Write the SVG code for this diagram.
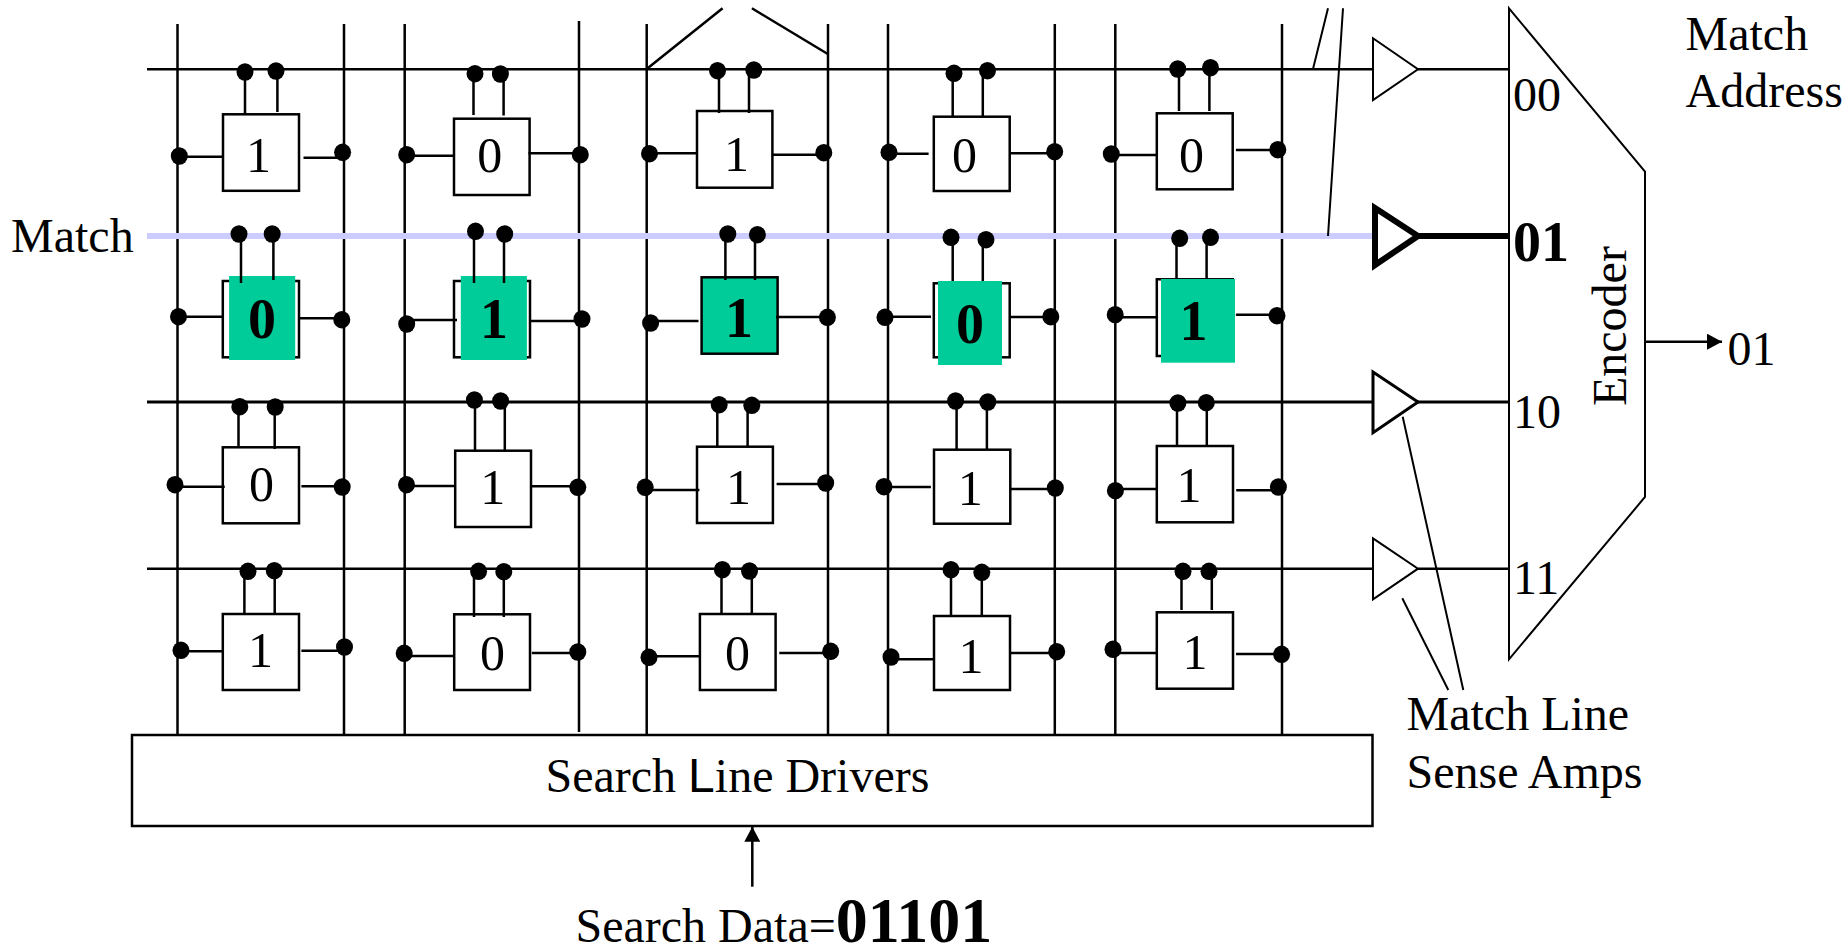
<svg xmlns="http://www.w3.org/2000/svg" width="1845" height="947" viewBox="0 0 1845 947">
<style>
text{font-family:"Liberation Serif","Times New Roman",serif;fill:#000}
.t{font-size:48px}
.c{font-size:50px;text-anchor:middle}
.b{font-size:56px;font-weight:bold;text-anchor:middle}
.l{stroke:#000;stroke-width:2.5;fill:none}
.s{stroke:#000;stroke-width:2;fill:none}
.r{stroke:#000;stroke-width:2.5;fill:#fff}
.g{fill:#00cc99;stroke:none}
.d{fill:#000;stroke:none}
</style>
<defs>
<ellipse id="dot" class="d" rx="8.5" ry="8.7"/>
<marker id="ah" markerUnits="userSpaceOnUse" markerWidth="16" markerHeight="16" refX="15" refY="8" orient="auto"><path d="M0 0L15 8L0 16Z" fill="#000"/></marker>
</defs>
<g id="connectors">
<path class="l" d="M177.500 24V735M344 24V735M404.700 24V735M579 21V732M646.700 24V735M828 24V735M888 24V735M1054.800 24V735M1115.300 24V735M1282 24V735"/>
<path class="l" d="M147 69.300H1373M1418 69.300H1509M147 568.700H1373M1418 568.700H1509"/>
<path d="M147 402H1373M1418 402H1509" stroke="#000" stroke-width="3" fill="none"/>
<path d="M147 236H1372" stroke="#ccccff" stroke-width="6" fill="none"/>
<path d="M1418 236H1509" stroke="#000" stroke-width="6" fill="none"/>
<path class="l" d="M646.700 69L722.600 8.300M751.900 8.300L827.800 54"/>
<path class="s" d="M1313 69L1328 8.300M1343 8.300L1328 236"/>
<path class="s" d="M1402.700 416.700L1463.300 690M1402.300 598.300L1448.300 690"/>
<path class="l" d="M752.300 886.700V826.700" marker-end="url(#ah)"/>
<path class="l" d="M1645 341.700H1722" marker-end="url(#ah)"/>
</g>
<g id="amp-00"><path class="s" d="M1373 38.300L1418 69.300L1373 100Z"/></g>
<g id="amp-01"><path d="M1375 208L1418 236L1375 265Z" fill="none" stroke="#000" stroke-width="6"/></g>
<g id="amp-10"><path d="M1373 372L1418 402L1373 432.700Z" fill="none" stroke="#000" stroke-width="3"/></g>
<g id="amp-11"><path class="s" d="M1373 538.300L1418 568.700L1373 599.300Z"/></g>
<g id="encoder"><path class="s" d="M1509 8.300L1645 171.700V497L1509 659.300Z"/>
<text class="t" x="1513" y="111">00</text>
<text x="1513" y="261" font-size="56" font-weight="bold">01</text>
<text class="t" x="1513" y="428.300">10</text>
<text class="t" x="1513" y="594">11</text>
<text class="t" transform="translate(1626 406) rotate(-90)">Encoder</text>
</g>
<g id="search-drivers"><rect class="r" x="132" y="735" width="1240.500" height="91"/><text class="t" x="545.500" y="791.500">Search <tspan style="font-family:'Liberation Sans',Arial,sans-serif">L</tspan>ine Drivers</text></g>
<g id="labels">
<text class="t" x="11" y="252">Match</text>
<text class="t" x="1685.500" y="50">Match</text>
<text class="t" x="1685.500" y="107">Address</text>
<text class="t" x="1727.500" y="365">01</text>
<text class="t" x="1406.500" y="730">Match Line</text>
<text class="t" x="1406.500" y="787.700">Sense Amps</text>
<text class="t" x="575.500" y="941.700">Search Data=<tspan font-size="64" font-weight="bold">01101</tspan></text>
</g>
<g id="cell-1-1"><rect class="r" x="223" y="114.300" width="76" height="76.500"/><path class="l" d="M245 72V114M277.400 72V112M179 156.700H223M303.500 157.700H342"/><use href="#dot" x="245" y="72"/><use href="#dot" x="276" y="71"/><use href="#dot" x="179.300" y="156"/><use href="#dot" x="342.600" y="152.300"/><text class="c" x="258.400" y="171.700">1</text></g>
<g id="cell-1-2"><rect class="r" x="454" y="118.700" width="75.600" height="76.300"/><path class="l" d="M473.500 74V115M503.600 74V115.500M407 155.700H453M528.500 153.300H580"/><use href="#dot" x="475" y="73.700"/><use href="#dot" x="500.400" y="74"/><use href="#dot" x="406.700" y="154.700"/><use href="#dot" x="580.300" y="154.700"/><text class="c" x="489.700" y="171.700">0</text></g>
<g id="cell-1-3"><rect class="r" x="697" y="111" width="75.400" height="76.700"/><path class="l" d="M719 71V113M749 70V113M650 153.300H697M773 154.700H824"/><use href="#dot" x="717.500" y="70.700"/><use href="#dot" x="753.800" y="70"/><use href="#dot" x="649.500" y="153.700"/><use href="#dot" x="823.800" y="152.700"/><text class="c" x="736.600" y="170.600">1</text></g>
<g id="cell-1-4"><rect class="r" x="933.800" y="116.700" width="75.900" height="74.300"/><path class="l" d="M952.700 73V116M982.800 71V116M889 153.700H928.600M1009.700 153.300H1054"/><use href="#dot" x="954" y="73.300"/><use href="#dot" x="987.500" y="70.700"/><use href="#dot" x="889" y="152.300"/><use href="#dot" x="1054.700" y="151.700"/><text class="c" x="964.600" y="171.700">0</text></g>
<g id="cell-1-5"><rect class="r" x="1156.800" y="113.300" width="75.900" height="76"/><path class="l" d="M1179 69V111M1209.400 68V111M1111 155H1156.800M1235.900 150H1278"/><use href="#dot" x="1177.700" y="69"/><use href="#dot" x="1210.500" y="67.700"/><use href="#dot" x="1111.300" y="154"/><use href="#dot" x="1277.800" y="149.700"/><text class="c" x="1191.600" y="171.700">0</text></g>
<g id="cell-2-1"><rect class="r" x="222.800" y="281" width="76.200" height="76.300"/><rect class="g" x="229.100" y="276" width="66.100" height="84"/><path class="l" d="M241 234V283M273.400 234V280M178.500 316.700H222.800M299 318.300H342"/><use href="#dot" x="239" y="234"/><use href="#dot" x="272.200" y="234"/><use href="#dot" x="178.500" y="316.700"/><use href="#dot" x="341.800" y="319.700"/><text class="b" x="262" y="337.700">0</text></g>
<g id="cell-2-2"><rect class="r" x="454" y="281" width="76" height="76.300"/><rect class="g" x="460.800" y="276" width="66.100" height="84"/><path class="l" d="M474 231V283M504 234V283M407 320H457M530.500 321H582"/><use href="#dot" x="475.500" y="231.300"/><use href="#dot" x="504.700" y="234"/><use href="#dot" x="406.700" y="324"/><use href="#dot" x="582" y="319"/><text class="b" x="494" y="337.700">1</text></g>
<g id="cell-2-3"><rect x="701.600" y="277.300" width="76" height="76.400" fill="#00cc99" stroke="#000" stroke-width="2.500"/><path class="l" d="M725.400 234V280M755 234V280M650.600 321H698.500M776 317H827"/><use href="#dot" x="727.800" y="234"/><use href="#dot" x="757.400" y="234.700"/><use href="#dot" x="650.600" y="323"/><use href="#dot" x="827.400" y="317.300"/><text class="b" x="739" y="337">1</text></g>
<g id="cell-2-4"><rect class="r" x="933.800" y="283.300" width="75.900" height="74"/><rect class="g" x="938" y="281" width="64" height="84"/><path class="l" d="M952.700 237V281M982.800 240V281M885 316.700H931M1009.700 317H1051"/><use href="#dot" x="951" y="237.300"/><use href="#dot" x="986" y="239.700"/><use href="#dot" x="885" y="317.300"/><use href="#dot" x="1050.800" y="316.700"/><text class="b" x="970" y="342.700">0</text></g>
<g id="cell-2-5"><rect class="r" x="1156.800" y="279.300" width="76" height="76.700"/><rect class="g" x="1161" y="279" width="74" height="83.700"/><path class="l" d="M1176.500 238V279M1206.600 237V279M1115 317.300H1156.800M1235.900 314.700H1277"/><use href="#dot" x="1179.700" y="238.300"/><use href="#dot" x="1210.500" y="237.300"/><use href="#dot" x="1115.200" y="314.700"/><use href="#dot" x="1277" y="315.700"/><text class="b" x="1193.500" y="340">1</text></g>
<g id="cell-3-1"><rect class="r" x="222.800" y="447.300" width="76.200" height="76"/><path class="l" d="M238.500 407V447M274.700 407V449M175 486.700H224.700M301.400 486.300H342"/><use href="#dot" x="239.800" y="406.700"/><use href="#dot" x="275.200" y="407"/><use href="#dot" x="175" y="484.700"/><use href="#dot" x="342.200" y="487"/><text class="c" x="261.400" y="501.300">0</text></g>
<g id="cell-3-2"><rect class="r" x="455.200" y="450.700" width="75.800" height="76.300"/><path class="l" d="M475 400V452M504.800 401V452M406.500 486H455M531.800 486.300H578"/><use href="#dot" x="474.400" y="400"/><use href="#dot" x="500.600" y="401"/><use href="#dot" x="406.500" y="484.700"/><use href="#dot" x="577.800" y="487.300"/><text class="c" x="492.800" y="504">1</text></g>
<g id="cell-3-3"><rect class="r" x="697" y="446.700" width="75.900" height="76.300"/><path class="l" d="M717.300 405V447M747.600 405V447M645.200 490H699.400M776.600 484H825.700"/><use href="#dot" x="719.200" y="404.700"/><use href="#dot" x="751.800" y="405.300"/><use href="#dot" x="645.200" y="487.300"/><use href="#dot" x="825.700" y="483"/><text class="c" x="738.500" y="504">1</text></g>
<g id="cell-3-4"><rect class="r" x="934" y="449.700" width="76.300" height="74"/><path class="l" d="M956.600 401V450M986.900 402V450M884 487H930.900M1010 489H1055"/><use href="#dot" x="955.600" y="401"/><use href="#dot" x="987.800" y="402"/><use href="#dot" x="884" y="486.700"/><use href="#dot" x="1055.300" y="488"/><text class="c" x="970.300" y="504.700">1</text></g>
<g id="cell-3-5"><rect class="r" x="1156.800" y="446" width="76.200" height="76.300"/><path class="l" d="M1177 403V446M1206.800 403V446M1115.400 489H1156.800M1236.200 490.300H1278"/><use href="#dot" x="1177.900" y="403"/><use href="#dot" x="1206.300" y="402.700"/><use href="#dot" x="1115.400" y="490.700"/><use href="#dot" x="1278.400" y="487"/><text class="c" x="1188.900" y="502">1</text></g>
<g id="cell-4-1"><rect class="r" x="222.800" y="614" width="76.200" height="76"/><path class="l" d="M244.400 571V614M274.700 571V614M181 651.300H222.800M301.400 650.700H344"/><use href="#dot" x="248" y="571.300"/><use href="#dot" x="274.300" y="570.700"/><use href="#dot" x="181" y="650.300"/><use href="#dot" x="344.500" y="647"/><text class="c" x="260.500" y="666.700">1</text></g>
<g id="cell-4-2"><rect class="r" x="454.200" y="614.300" width="75.800" height="75.700"/><path class="l" d="M474 571V617M503.800 572V617M404.200 656H454.200M531.800 653H578"/><use href="#dot" x="478.600" y="571.300"/><use href="#dot" x="503.800" y="571.700"/><use href="#dot" x="404.200" y="653.300"/><use href="#dot" x="577.800" y="652"/><text class="c" x="492.400" y="670">0</text></g>
<g id="cell-4-3"><rect class="r" x="699.900" y="614" width="75.700" height="76"/><path class="l" d="M721.500 570V615M751.800 571V615M649 656.300H699.900M779.300 653H830"/><use href="#dot" x="722.400" y="569.700"/><use href="#dot" x="749.500" y="571"/><use href="#dot" x="649" y="657.300"/><use href="#dot" x="830.700" y="651.300"/><text class="c" x="737.500" y="670">0</text></g>
<g id="cell-4-4"><rect class="r" x="934" y="616" width="76" height="74"/><path class="l" d="M951 570V616M981.800 572V616M891 659.300H934M1010 653H1056"/><use href="#dot" x="951" y="569.700"/><use href="#dot" x="981.800" y="572.300"/><use href="#dot" x="891" y="657"/><use href="#dot" x="1056.700" y="651.700"/><text class="c" x="971" y="672.700">1</text></g>
<g id="cell-4-5"><rect class="r" x="1156.800" y="612.300" width="76.200" height="76.400"/><path class="l" d="M1181.500 571V610M1211.800 571V610M1113 653H1156.800M1236 654H1281"/><use href="#dot" x="1183" y="571.300"/><use href="#dot" x="1209" y="571.300"/><use href="#dot" x="1113" y="649.300"/><use href="#dot" x="1281.600" y="654.300"/><text class="c" x="1195" y="668.700">1</text></g>
</svg>
